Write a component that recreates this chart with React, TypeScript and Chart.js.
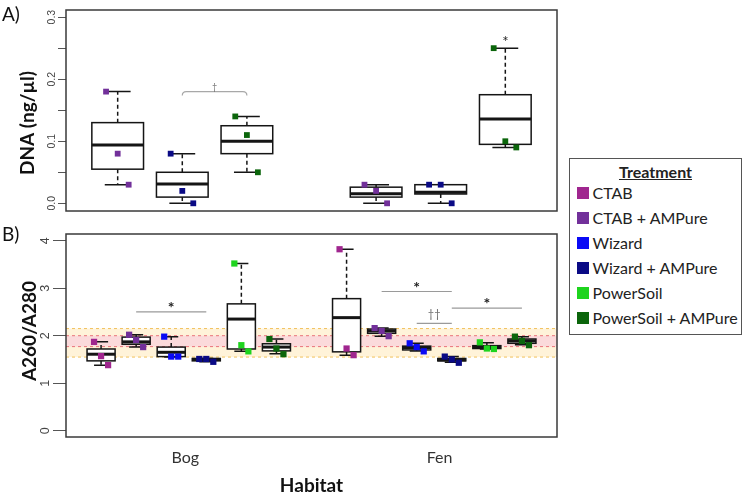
import React, { useEffect, useRef } from 'react';
import { Chart, registerables } from 'chart.js';

Chart.register(...registerables);

// ---------- shared ----------
const TREATMENTS = ['CTAB', 'CTAB + AMPure', 'Wizard', 'Wizard + AMPure', 'PowerSoil', 'PowerSoil + AMPure'];
const COLORS = ['#A0268F', '#72309A', '#0A0AF5', '#0A0A85', '#1ED41E', '#0B650B'];
const HABITATS = ['Bog', 'Fen'];

// ---------- panel A: DNA (ng/µl), AMPure-cleaned extracts ----------
const A_POS = [1, 2, 3, 5, 6, 7];
const A_TREAT = [1, 3, 5, 1, 3, 5];
const A_LOW = [0.03, 0.0, 0.05, 0.0, 0.0, 0.09];
const A_Q1 = [0.055, 0.01, 0.08, 0.01, 0.015, 0.095];
const A_MED = [0.094, 0.031, 0.1, 0.0155, 0.018, 0.136];
const A_Q3 = [0.13, 0.05, 0.125, 0.026, 0.03, 0.175];
const A_HIGH = [0.18, 0.08, 0.14, 0.03, 0.03, 0.25];
const A_POINTS = [
  [0.18, 0.08, 0.03],
  [0.08, 0.02, 0.0],
  [0.14, 0.11, 0.05],
  [0.03, 0.02, 0.0],
  [0.03, 0.03, 0.0],
  [0.25, 0.1, 0.09],
];
const A_JITTER = [-0.18, 0, 0.17];
const A_Y_TICKS = [0, 0.05, 0.1, 0.15, 0.2, 0.25, 0.3];
const A_Y_LABELS = ['0.0', '', '0.1', '', '0.2', '', '0.3'];
const A_BRACKET = { x1: 2, x2: 3, y: 0.18, label: '\u2020' };
const A_STAR = { x: 7, y: 0.25, label: '*' };

// ---------- panel B: A260/A280 ----------
const B_POS = [1, 2, 3, 4, 5, 6, 8, 9, 10, 11, 12, 13];
const B_TREAT = [0, 1, 2, 3, 4, 5, 0, 1, 2, 3, 4, 5];
const B_LOW = [1.38, 1.76, 1.55, 1.45, 1.67, 1.62, 1.59, 1.99, 1.68, 1.44, 1.72, 1.81];
const B_Q1 = [1.47, 1.82, 1.56, 1.47, 1.72, 1.68, 1.66, 2.05, 1.7, 1.47, 1.73, 1.84];
const B_MED = [1.61, 1.87, 1.65, 1.5, 2.35, 1.76, 2.38, 2.1, 1.75, 1.49, 1.76, 1.89];
const B_Q3 = [1.72, 1.97, 1.76, 1.52, 2.67, 1.83, 2.78, 2.14, 1.78, 1.52, 1.79, 1.93];
const B_HIGH = [1.87, 2.02, 1.98, 1.52, 3.52, 1.93, 3.82, 2.16, 1.84, 1.56, 1.85, 1.98];
const B_POINTS = [
  [1.87, 1.57, 1.38],
  [2.02, 1.91, 1.76],
  [1.98, 1.56, 1.56],
  [1.51, 1.51, 1.45],
  [3.52, 1.8, 1.67],
  [1.93, 1.73, 1.61],
  [3.82, 1.73, 1.59],
  [2.16, 2.1, 1.99],
  [1.84, 1.76, 1.67],
  [1.56, 1.5, 1.43],
  [1.86, 1.73, 1.72],
  [1.98, 1.89, 1.8],
];
const B_JITTER = [-0.2, 0, 0.2];
const B_Y_TICKS = [0, 1, 2, 3, 4];
const B_Y_LABELS = ['0', '1', '2', '3', '4'];
const HABITAT_POS = [3.4, 10.65];
const BAND_OUTER = [1.55, 2.15];
const BAND_INNER = [1.77, 2.0];
const B_SIG_X1 = [2, 9, 10, 11];
const B_SIG_X2 = [4, 11, 11, 13];
const B_SIG_Y = [2.5, 2.93, 2.26, 2.58];
const B_SIG_LABEL = ['*', '*', '\u2020\u2020', '*'];

const BOX_WIDTH = 0.8;
const CAP_WIDTH = 0.4;

type BoxData = { pos: number[]; low: number[]; q1: number[]; med: number[]; q3: number[]; high: number[] };

function drawBoxes(chart: any, d: BoxData) {
  const { ctx, scales } = chart;
  const xs = scales.x;
  const ys = scales.y;
  ctx.save();
  ctx.strokeStyle = '#151515';
  for (let i = 0; i < d.pos.length; i++) {
    const p = d.pos[i];
    const cx = xs.getPixelForValue(p);
    const xl = xs.getPixelForValue(p - BOX_WIDTH / 2);
    const xr = xs.getPixelForValue(p + BOX_WIDTH / 2);
    const cl = xs.getPixelForValue(p - CAP_WIDTH / 2);
    const cr = xs.getPixelForValue(p + CAP_WIDTH / 2);
    const yl = ys.getPixelForValue(d.low[i]);
    const y1 = ys.getPixelForValue(d.q1[i]);
    const ym = ys.getPixelForValue(d.med[i]);
    const y3 = ys.getPixelForValue(d.q3[i]);
    const yh = ys.getPixelForValue(d.high[i]);
    ctx.lineWidth = 1.5;
    ctx.setLineDash([4, 3]);
    ctx.beginPath();
    ctx.moveTo(cx, y3); ctx.lineTo(cx, yh);
    ctx.moveTo(cx, y1); ctx.lineTo(cx, yl);
    ctx.stroke();
    ctx.setLineDash([]);
    ctx.beginPath();
    ctx.moveTo(cl, yh); ctx.lineTo(cr, yh);
    ctx.moveTo(cl, yl); ctx.lineTo(cr, yl);
    ctx.stroke();
    ctx.fillStyle = '#ffffff';
    ctx.fillRect(xl, y3, xr - xl, y1 - y3);
    ctx.strokeRect(xl, y3, xr - xl, y1 - y3);
    ctx.lineWidth = 3;
    ctx.beginPath();
    ctx.moveTo(xl, ym); ctx.lineTo(xr, ym);
    ctx.stroke();
  }
  ctx.restore();
}

function drawFrame(chart: any) {
  const { ctx, chartArea } = chart;
  ctx.save();
  ctx.strokeStyle = '#3a3a3a';
  ctx.lineWidth = 1.5;
  ctx.strokeRect(chartArea.left, chartArea.top, chartArea.right - chartArea.left, chartArea.bottom - chartArea.top);
  ctx.restore();
}

function drawYLabels(chart: any, ticks: number[], labels: string[], anchorX: number, font: string) {
  const { ctx, scales } = chart;
  ctx.save();
  ctx.fillStyle = '#444';
  ctx.font = font;
  ctx.textAlign = 'center';
  ctx.textBaseline = 'alphabetic';
  ticks.forEach((v, i) => {
    if (!labels[i]) return;
    ctx.save();
    ctx.translate(anchorX, scales.y.getPixelForValue(v));
    ctx.rotate(-Math.PI / 2);
    ctx.fillText(labels[i], 0, 0);
    ctx.restore();
  });
  ctx.restore();
}

function drawRotatedTitle(ctx: CanvasRenderingContext2D, text: string, x: number, y: number, font: string) {
  ctx.save();
  ctx.translate(x, y);
  ctx.rotate(-Math.PI / 2);
  ctx.font = font;
  ctx.fillStyle = '#111';
  ctx.textAlign = 'center';
  ctx.textBaseline = 'alphabetic';
  ctx.fillText(text, 0, 0);
  ctx.restore();
}

function pointDatasets(pos: number[], treat: number[], pts: number[][], jitter: number[], radius: number) {
  return pos.map((p, i) => ({
    label: TREATMENTS[treat[i]],
    data: pts[i].map((v, j) => ({ x: p + jitter[j], y: v })),
    backgroundColor: COLORS[treat[i]],
    borderColor: COLORS[treat[i]],
    borderWidth: 0,
    pointStyle: 'rect',
    pointRadius: radius,
    pointHoverRadius: radius,
  }));
}

const panelAPlugin = {
  id: 'panelA',
  beforeDatasetsDraw(chart: any) {
    drawBoxes(chart, { pos: A_POS, low: A_LOW, q1: A_Q1, med: A_MED, q3: A_Q3, high: A_HIGH });
  },
  afterDraw(chart: any) {
    const { ctx, scales } = chart;
    drawFrame(chart);
    drawYLabels(chart, A_Y_TICKS, A_Y_LABELS, 54.5, '10.5px "Liberation Sans", Arial, sans-serif');
    drawRotatedTitle(ctx, 'DNA (ng/\u00b5l)', 34, 123, 'bold 19px Lato, sans-serif');
    ctx.save();
    ctx.fillStyle = '#111';
    ctx.font = '19px Lato, sans-serif';
    ctx.textAlign = 'left';
    ctx.textBaseline = 'alphabetic';
    ctx.fillText('A)', 2, 21);
    // bracket
    const x1 = scales.x.getPixelForValue(A_BRACKET.x1);
    const x2 = scales.x.getPixelForValue(A_BRACKET.x2);
    const yb = scales.y.getPixelForValue(A_BRACKET.y);
    ctx.strokeStyle = '#a8a8a8';
    ctx.lineWidth = 1.2;
    ctx.beginPath();
    ctx.moveTo(x1, yb + 4);
    ctx.quadraticCurveTo(x1, yb, x1 + 4, yb);
    ctx.lineTo(x2 - 4, yb);
    ctx.quadraticCurveTo(x2, yb, x2, yb + 4);
    ctx.stroke();
    ctx.fillStyle = '#777';
    ctx.font = '9px Lato, sans-serif';
    ctx.textAlign = 'center';
    ctx.fillText(A_BRACKET.label, (x1 + x2) / 2, yb - 2);
    ctx.fillStyle = '#222';
    ctx.font = '15px Lato, sans-serif';
    ctx.fillText(A_STAR.label, scales.x.getPixelForValue(A_STAR.x), scales.y.getPixelForValue(A_STAR.y) - 1);
    ctx.restore();
  },
};

const panelBPlugin = {
  id: 'panelB',
  beforeDatasetsDraw(chart: any) {
    const { ctx, chartArea, scales } = chart;
    const ys = scales.y;
    ctx.save();
    const oTop = ys.getPixelForValue(BAND_OUTER[1]);
    const oBot = ys.getPixelForValue(BAND_OUTER[0]);
    const iTop = ys.getPixelForValue(BAND_INNER[1]);
    const iBot = ys.getPixelForValue(BAND_INNER[0]);
    ctx.fillStyle = '#FFF3D9';
    ctx.fillRect(chartArea.left, oTop, chartArea.right - chartArea.left, oBot - oTop);
    ctx.fillStyle = '#FBDADB';
    ctx.fillRect(chartArea.left, iTop, chartArea.right - chartArea.left, iBot - iTop);
    ctx.lineWidth = 1;
    ctx.setLineDash([3, 3]);
    ctx.strokeStyle = '#F1C15C';
    ctx.beginPath();
    ctx.moveTo(chartArea.left, oTop); ctx.lineTo(chartArea.right, oTop);
    ctx.moveTo(chartArea.left, oBot); ctx.lineTo(chartArea.right, oBot);
    ctx.stroke();
    ctx.strokeStyle = '#E9737A';
    ctx.beginPath();
    ctx.moveTo(chartArea.left, iTop); ctx.lineTo(chartArea.right, iTop);
    ctx.moveTo(chartArea.left, iBot); ctx.lineTo(chartArea.right, iBot);
    ctx.stroke();
    ctx.restore();
    drawBoxes(chart, { pos: B_POS, low: B_LOW, q1: B_Q1, med: B_MED, q3: B_Q3, high: B_HIGH });
  },
  afterDraw(chart: any) {
    const { ctx, scales } = chart;
    drawFrame(chart);
    drawYLabels(chart, B_Y_TICKS, B_Y_LABELS, 48.5, '12.5px "Liberation Sans", Arial, sans-serif');
    drawRotatedTitle(ctx, 'A260/A280', 36, 111, 'bold 19px Lato, sans-serif');
    ctx.save();
    ctx.fillStyle = '#111';
    ctx.font = '19px Lato, sans-serif';
    ctx.textAlign = 'left';
    ctx.textBaseline = 'alphabetic';
    ctx.fillText('B)', 2, 21);
    ctx.strokeStyle = '#9a9a9a';
    ctx.lineWidth = 1.2;
    ctx.textAlign = 'center';
    B_SIG_Y.forEach((v, i) => {
      const x1 = scales.x.getPixelForValue(B_SIG_X1[i]);
      const x2 = scales.x.getPixelForValue(B_SIG_X2[i]);
      const y = scales.y.getPixelForValue(v);
      ctx.beginPath();
      ctx.moveTo(x1, y); ctx.lineTo(x2, y);
      ctx.stroke();
      const dag = B_SIG_LABEL[i] !== '*';
      ctx.fillStyle = dag ? '#666' : '#222';
      ctx.font = dag ? '11px Lato, sans-serif' : 'bold 16px Lato, sans-serif';
      ctx.fillText(B_SIG_LABEL[i], (x1 + x2) / 2, dag ? y - 5 : y + 1);
    });
    ctx.restore();
  },
};

function configA(): any {
  return {
    type: 'scatter',
    data: { datasets: pointDatasets(A_POS, A_TREAT, A_POINTS, A_JITTER, 4.1) },
    options: {
      responsive: false,
      animation: false,
      events: [],
      layout: { padding: { top: 10, bottom: 9, left: 0, right: 189 } },
      plugins: { legend: { display: false }, tooltip: { enabled: false } },
      scales: {
        x: { type: 'linear', min: 0.2, max: 7.8, display: false },
        y: {
          type: 'linear',
          min: -0.0124,
          max: 0.3115,
          afterFit: (s: any) => { s.width = 66; },
          afterBuildTicks: (s: any) => { s.ticks = A_Y_TICKS.map((v) => ({ value: v })); },
          ticks: { display: false },
          grid: { drawOnChartArea: false, drawTicks: true, tickLength: 8, color: '#555', lineWidth: 1 },
          border: { display: false },
        },
      },
    },
    plugins: [panelAPlugin],
  };
}

function configB(): any {
  return {
    type: 'scatter',
    data: { datasets: pointDatasets(B_POS, B_TREAT, B_POINTS, B_JITTER, 4.4) },
    options: {
      responsive: false,
      animation: false,
      events: [],
      layout: { padding: { top: 14, bottom: 0, left: 0, right: 189 } },
      plugins: { legend: { display: false }, tooltip: { enabled: false } },
      scales: {
        x: {
          type: 'linear',
          min: 0,
          max: 14,
          afterFit: (s: any) => { s.height = 56; },
          afterBuildTicks: (s: any) => { s.ticks = HABITAT_POS.map((v) => ({ value: v })); },
          ticks: {
            autoSkip: false,
            maxRotation: 0,
            padding: 11,
            color: '#333',
            font: { family: 'Lato, sans-serif', size: 16 },
            callback: (_v: any, i: number) => HABITATS[i],
          },
          grid: { display: false, drawTicks: false },
          border: { display: false },
          title: {
            display: true,
            text: 'Habitat',
            color: '#111',
            font: { family: 'Lato, sans-serif', size: 19, weight: 'bold', lineHeight: 0.8 },
            padding: { top: 0, bottom: 0 },
          },
        },
        y: {
          type: 'linear',
          min: -0.133,
          max: 4.141,
          afterFit: (s: any) => { s.width = 66; },
          afterBuildTicks: (s: any) => { s.ticks = B_Y_TICKS.map((v) => ({ value: v })); },
          ticks: { display: false },
          grid: { drawOnChartArea: false, drawTicks: true, tickLength: 13, color: '#555', lineWidth: 1 },
          border: { display: false },
        },
      },
    },
    plugins: [panelBPlugin],
  };
}

export default function App() {
  const refA = useRef<HTMLCanvasElement>(null);
  const refB = useRef<HTMLCanvasElement>(null);
  useEffect(() => {
    const a = new Chart(refA.current as HTMLCanvasElement, configA());
    const b = new Chart(refB.current as HTMLCanvasElement, configB());
    return () => {
      a.destroy();
      b.destroy();
    };
  }, []);
  return (
    <div style={{ position: 'absolute', left: 0, top: 0, width: 746, height: 493, background: '#fff', fontFamily: 'Lato, sans-serif', color: '#222' }}>
      <canvas ref={refA} width={746} height={220} style={{ position: 'absolute', left: 0, top: 0, width: 746, height: 220 }} />
      <canvas ref={refB} width={746} height={273} style={{ position: 'absolute', left: 0, top: 220, width: 746, height: 273 }} />
      <div
        style={{
          position: 'absolute', left: 569, top: 158, width: 173, height: 177,
          border: '1.5px solid #555', boxSizing: 'border-box', background: '#fff',
        }}
      >
        <div style={{ position: 'absolute', left: 0, right: 0, top: 4, textAlign: 'center', fontWeight: 700, textDecoration: 'underline', fontSize: 16, lineHeight: '18px' }}>
          Treatment
        </div>
        {TREATMENTS.map((t, i) => (
          <div key={t} style={{ position: 'absolute', left: 6.5, top: 25 + i * 25, height: 18, display: 'flex', alignItems: 'center', fontSize: 16, lineHeight: '18px', whiteSpace: 'nowrap' }}>
            <span style={{ width: 12, height: 12, background: COLORS[i], marginRight: 4, display: 'inline-block', flex: 'none' }} />
            {t}
          </div>
        ))}
      </div>
    </div>
  );
}
